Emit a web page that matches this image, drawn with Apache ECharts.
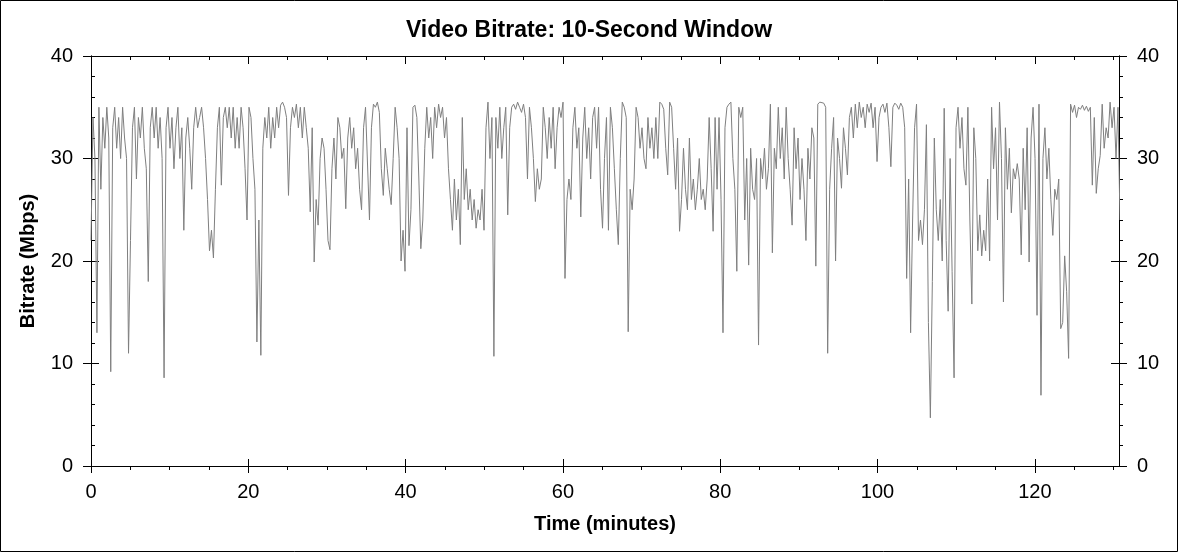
<!DOCTYPE html>
<html>
<head>
<meta charset="utf-8">
<title>Video Bitrate</title>
<script src="https://cdn.jsdelivr.net/npm/echarts@6/dist/echarts.min.js"></script>
<style>
  html, body { margin: 0; padding: 0; background: #fff; }
  #chart { width: 1178px; height: 552px; }
</style>
</head>
<body>
<div id="chart"></div>
<script>
// one sample every ~15 s, values in Mbps
var minutesPerSample = 0.2511;
var bitrate = [
  // 0 min
  22,34,30,13,35,27,34,31,35,32,9.2,33,35,31,34,30,35,32,30,11,
  22,33,35,28,34,32,35,31,29,18,33,35,32,35,31,34,30,8.6,33,35,
  // 10 min
  31,34,29,33,35,30,33,23,32,34,31,27,33,35,33,34,35,33,30,26,
  21,23,20.3,27,33,35,27.4,34,35,33,35,32,35,31,34,31,35,33,29,24,
  // 20 min
  35,34,30,27,12.1,24,10.8,31,34,32,35,31,34,32,35,33,35.2,35.5,35,34,
  26.4,33,35,34,35.3,33,35,32,35,33,31,24.8,33,19.9,26,23.5,30,32,31,27,
  // 30 min
  22,21.1,29,32,28,34,33,30,31,25.1,32,34,31,33,29,31,27,25,33,35,
  35,24,33,35.3,35,35.5,34.5,29,26.4,31,29,27,25.5,30,35,33,30,20,23,19,
  // 40 min
  33,21.5,25,35,35.2,34,28,21.2,24,31,35,32,34,30,35,33,35.3,34,35,32,
  34,29,26,23,28,24,27,21.6,34,26,29,25,27,24,26,23.2,25,24,27,23,
  // 50 min
  33,35.5,30,34,10.7,34,31,35,30,33,35,24.5,33,35,35.3,34.8,35.5,35,34.5,35.3,
  34,28,35,33,30,25.8,29,27,28,35,33,30,34,31,35,29,33,35,34,35.5,
  // 60 min
  18.3,26,28,26,33,35,31,33,24.3,32,35,30,33,28,34,35,31,35,27,23.2,
  30,34,23,35,33,29,25,21.6,30,35.5,35,34,13.1,27,25,28,35,34,31,33,
  // 70 min
  30,29,34,31,33,30,34,30,35.5,35.3,34.8,31,28.4,35.5,35,31,27,32,22.9,26,
  31,27,25,32,26,28,25,27,30,26,27,25,28,34,29,22.9,34,27,34,26,
  // 80 min
  13,33,35,35.3,35.5,30,27,19,35,34,35,24,30,19.6,31,27,26,30,11.8,30,
  28,31,27,29,35.3,20.8,31,29,35,30,33,28,35,30,27,23.5,33,29,32,26,
  // 90 min
  30,27,22,31,28,33,32,19.5,35.3,35.5,35.6,35.4,35,11,27,31,34,20,32,30,
  27.1,33,31,28.4,34,35,32,35.3,33,35.5,34,35,33,35.3,34.5,35.4,33,35,29.7,34,
  // 100 min
  35,35.3,34.5,35.4,33,29.2,35,35.4,35.2,34.8,35.4,35,33,18.3,28,13,24,33,35.3,22,
  24,21.6,25,33.3,14,4.7,18,32,25,22,26,20,34.9,22,15.1,30,19,8.6,33,35,
  // 110 min
  31,34,29,27.4,35,24,15.8,33,30,21,24.5,20.5,23,21,28,20,35,29,33,24,
  35.5,30,16,33,27,31,24.7,29,28,29.5,28,20.6,31,25,33,19.9,32,35,30,14.7,
  // 120 min
  35.3,6.9,30,33,28,31,26,22.5,27,26,28,13.4,14,20.5,17,10.5,35.3,34.5,35.2,34,
  35,34.8,35.2,34.7,35.1,34.6,35,27.4,34,26.6,29,30.3,35.3,31,33,32,35.5,33,35,30,
  // 130 min
  35,24
];

var xMajorTicks = [0, 20, 40, 60, 80, 100, 120];
var xMinorTicks = [5,10,15,25,30,35,45,50,55,65,70,75,85,90,95,105,110,115,125,130];
var xMax = 130.7;

var fontFam = 'Arial, "Liberation Sans", sans-serif';

var points = [];
for (var i = 0; i < bitrate.length; i++) {
    points.push([i * minutesPerSample, bitrate[i]]);
}

var myChart = echarts.init(document.getElementById('chart'), null, {renderer: 'canvas'});

// x axes: several copies on the same edge, just to get ticks on both sides
function xAxisCopy(pos, ticks, inside, len, labels) {
    return {
        type: 'value', position: pos, min: 0, max: xMax,
        axisLine: {show: true, onZero: false, lineStyle: {color: '#000', width: 1}},
        axisTick: {show: true, customValues: ticks, inside: inside, length: len,
                   lineStyle: {color: '#000', width: 1}},
        axisLabel: labels ? {show: true, customValues: xMajorTicks, color: '#000',
                   fontSize: 20, fontFamily: fontFam, margin: 16} : {show: false},
        splitLine: {show: false}
    };
}

function yAxisCopy(pos, inside, minor, labels) {
    return {
        type: 'value', position: pos, min: 0, max: 40, interval: 10,
        axisLine: {show: true, onZero: false, lineStyle: {color: '#000', width: 1}},
        axisTick: {show: true, inside: inside, length: 8, lineStyle: {color: '#000', width: 1}},
        minorTick: {show: minor, splitNumber: 5, length: 4, lineStyle: {color: '#000', width: 1}},
        axisLabel: labels ? {show: true, color: '#000', fontSize: 20, fontFamily: fontFam, margin: 18}
                          : {show: false},
        splitLine: {show: false}
    };
}

var xAxes = [
    xAxisCopy('bottom', xMajorTicks, true, 7, true),
    xAxisCopy('bottom', xMajorTicks, false, 7, false),
    xAxisCopy('bottom', xMinorTicks, false, 4, false),
    xAxisCopy('top', xMajorTicks, true, 8, false),
    xAxisCopy('top', xMinorTicks, true, 4, false)
];
xAxes[0].name = 'Time (minutes)';
xAxes[0].nameLocation = 'middle';
xAxes[0].nameGap = 48;
xAxes[0].nameTextStyle = {color: '#000', fontSize: 20, fontWeight: 'bold', fontFamily: fontFam};

var yAxes = [
    yAxisCopy('left', false, false, true),
    yAxisCopy('left', true, true, false),
    yAxisCopy('right', false, true, true),
    yAxisCopy('right', true, false, false)
];
yAxes[0].name = 'Bitrate (Mbps)';
yAxes[0].nameLocation = 'middle';
yAxes[0].nameGap = 53;
yAxes[0].nameTextStyle = {color: '#000', fontSize: 20, fontWeight: 'bold', fontFamily: fontFam};

var option = {
    backgroundColor: '#fff',
    animation: false,
    title: {
        text: 'Video Bitrate: 10-Second Window',
        left: 'center', top: 14,
        textStyle: {color: '#000', fontSize: 23, fontWeight: 'bold', fontFamily: fontFam}
    },
    grid: {left: 91, right: 59, top: 56, bottom: 86, containLabel: false, outerBoundsMode: 'none'},
    xAxis: xAxes,
    yAxis: yAxes,
    graphic: [{
        type: 'rect', silent: true, z: 100,
        shape: {x: 0.5, y: 0.5, width: 1177, height: 551},
        style: {fill: 'none', stroke: '#000', lineWidth: 1}
    }],
    series: [{
        type: 'line',
        xAxisIndex: 0, yAxisIndex: 0,
        data: points,
        showSymbol: false,
        lineStyle: {color: '#7f7f7f', width: 1},
        clip: true
    }]
};

myChart.setOption(option);
</script>
</body>
</html>
